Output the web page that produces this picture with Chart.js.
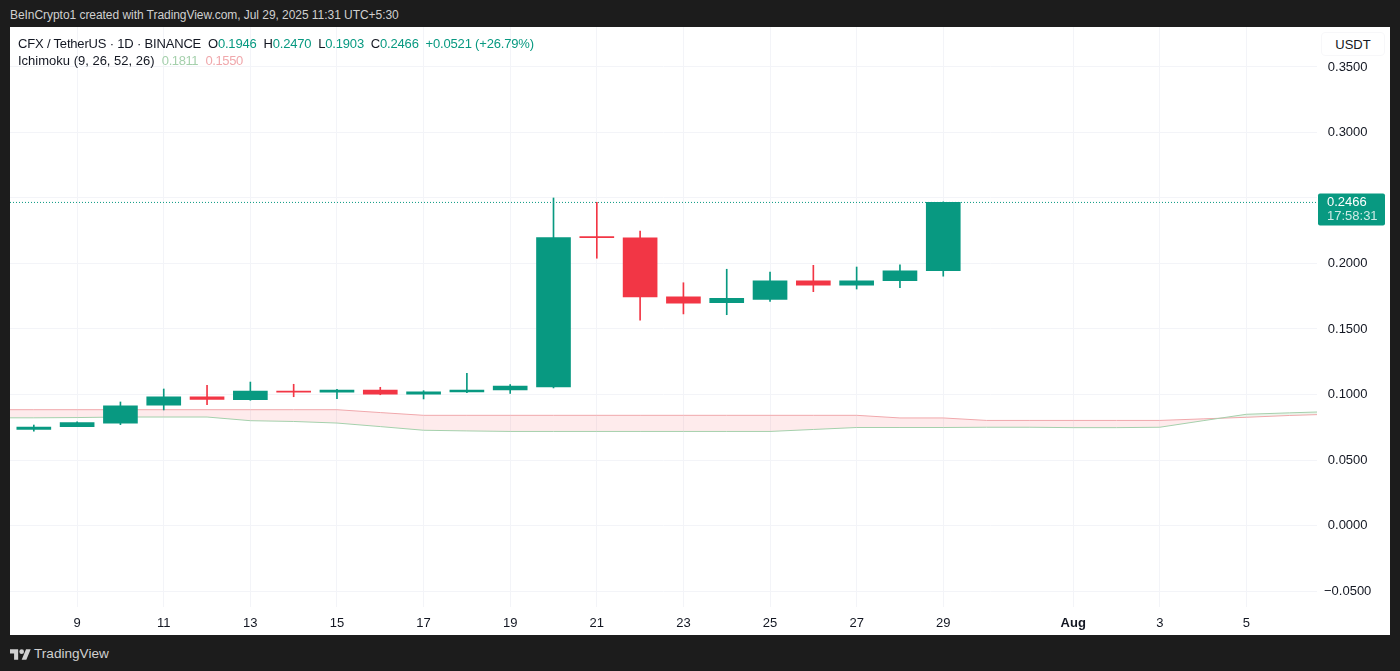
<!DOCTYPE html>
<html>
<head>
<meta charset="utf-8">
<title>CFX / TetherUS</title>
<script src="https://cdn.jsdelivr.net/npm/chart.js@4"></script>
<style>
    html, body { margin: 0; padding: 0; background: #1c1c1c; overflow: hidden; }
    body { width: 1400px; height: 671px; position: relative; font-family: "Liberation Sans", sans-serif; }
    .abs { position: absolute; white-space: pre; }
    #panel { left: 10px; top: 27px; width: 1380px; height: 608px; background: #fff; }
    #chartBox { left: 10px; top: 27px; width: 1380px; height: 608px; }
    #byline { left: 10px; top: 8px; font-size: 12px; letter-spacing: -0.05px; color: #d0d0d0; }
    #title, #ichimoku { left: 18px; font-size: 13px; color: #131722; }
    #title { top: 36px; letter-spacing: -0.18px; }
    #ichimoku { top: 53px; }
    .up { color: #089981; }
    .senkouA { color: #a5d0ac; letter-spacing: -0.4px; }
    .senkouB { color: #f0a8ac; letter-spacing: -0.4px; }
    #unit { left: 1321px; top: 32px; width: 64px; height: 24px; line-height: 24px; text-align: center; font-size: 13px;
        color: #131722; background: #fff; border: 1px solid #f7f7f9; border-radius: 4px; box-sizing: border-box; }
    #brand { left: 34px; top: 646px; font-size: 13.6px; color: #d0d0d0; }
    #logo { left: 10px; top: 647px; }
</style>
</head>
<body>
<div id="panel" class="abs"></div>
<div id="chartBox" class="abs"><canvas id="candles" width="1380" height="608"></canvas></div>
<div id="byline" class="abs">BeInCrypto1 created with TradingView.com, Jul 29, 2025 11:31 UTC+5:30</div>
<div id="title" class="abs">CFX / TetherUS · 1D · BINANCE  O<span class="up">0.1946</span>  H<span class="up">0.2470</span>  L<span class="up">0.1903</span>  C<span class="up">0.2466</span>  <span class="up">+0.0521 (+26.79%)</span></div>
<div id="ichimoku" class="abs">Ichimoku (9, 26, 52, 26)  <span class="senkouA">0.1811</span>  <span class="senkouB">0.1550</span></div>
<div id="unit" class="abs">USDT</div>
<svg id="logo" class="abs" width="21" height="14" viewBox="0 0 36 24"><path fill="#d0d0d0" d="M14 22H7V11H0V4h14v18zM28 22h-8l7.5-18h8L28 22z"/><circle fill="#d0d0d0" cx="20" cy="8" r="4"/></svg>
<div id="brand" class="abs">TradingView</div>
<script>
// candle data, day number counted from Jul 1 (Aug 1 = 32)
const days = [8, 9, 10, 11, 12, 13, 14, 15, 16, 17, 18, 19, 20, 21, 22, 23, 24, 25, 26, 27, 28, 29]
const opens = [0.0733, 0.0754, 0.0782, 0.0918, 0.0983, 0.0960, 0.1027, 0.1017, 0.1034, 0.1002, 0.1019, 0.1034, 0.1057, 0.2202, 0.2195, 0.1746, 0.1701, 0.1725, 0.1867, 0.1834, 0.1869, 0.1946]
const highs = [0.0767, 0.0792, 0.0943, 0.1042, 0.1070, 0.1095, 0.1078, 0.1040, 0.1055, 0.1029, 0.1162, 0.1076, 0.2500, 0.2467, 0.2248, 0.1853, 0.1956, 0.1935, 0.1986, 0.1973, 0.1989, 0.2470]
const lows = [0.0720, 0.0754, 0.0770, 0.0882, 0.0922, 0.0956, 0.0983, 0.0968, 0.0998, 0.0966, 0.1014, 0.1008, 0.1050, 0.2040, 0.1568, 0.1615, 0.1609, 0.1711, 0.1785, 0.1805, 0.1815, 0.1903]
const closes = [0.0752, 0.0785, 0.0914, 0.0983, 0.0963, 0.1027, 0.1017, 0.1034, 0.1002, 0.1021, 0.1034, 0.1065, 0.2197, 0.2197, 0.1745, 0.1698, 0.1734, 0.1867, 0.1834, 0.1867, 0.1943, 0.2466]

// ichimoku cloud edges
const cloudDays = [7, 8, 9, 10, 11, 12, 13, 14, 15, 16, 17, 18, 19, 20, 21, 22, 23, 24, 25, 26, 27, 28, 29, 30, 31, 32, 33, 34, 35, 36, 37, 38]
const spanA = [0.0822, 0.0822, 0.0824, 0.0828, 0.0828, 0.0828, 0.0800, 0.0794, 0.0782, 0.0755, 0.0727, 0.0722, 0.0718, 0.0718, 0.0718, 0.0718, 0.0718, 0.0718, 0.0718, 0.0733, 0.0748, 0.0748, 0.0748, 0.0750, 0.0750, 0.0747, 0.0747, 0.0750, 0.0800, 0.0849, 0.0860, 0.0870]
const spanB = [0.0884, 0.0884, 0.0884, 0.0884, 0.0884, 0.0884, 0.0884, 0.0884, 0.0884, 0.0862, 0.0841, 0.0841, 0.0841, 0.0841, 0.0841, 0.0841, 0.0841, 0.0841, 0.0841, 0.0841, 0.0841, 0.0821, 0.0821, 0.0802, 0.0802, 0.0802, 0.0802, 0.0802, 0.0814, 0.0826, 0.0840, 0.0850]

// axis ticks
const dayTicks = [9, 11, 13, 15, 17, 19, 21, 23, 25, 27, 29, 32, 34, 36]
const dayLabels = ['9', '11', '13', '15', '17', '19', '21', '23', '25', '27', '29', 'Aug', '3', '5']
const priceTicks = [0.35, 0.3, 0.25, 0.2, 0.15, 0.1, 0.05, 0, -0.05]

const xMin = 7.45
const xMax = 37.63
const lastClose = closes[closes.length - 1]
const countdown = '17:58:31'

const UP = '#089981'
const DOWN = '#f23645'
const candleColor = ctx => closes[ctx.dataIndex] >= opens[ctx.dataIndex] ? UP : DOWN

// last price tag on the right axis
const priceTag = {
    id: 'priceTag',
    afterDraw(chart) {
        const c = chart.ctx
        const y = chart.scales.y.getPixelForValue(lastClose)
        c.save()
        c.fillStyle = UP
        c.beginPath()
        c.roundRect(chart.chartArea.right + 1, y - 9, 67, 32, 2)
        c.fill()
        c.textBaseline = 'middle'
        c.textAlign = 'left'
        c.font = '13px "Liberation Sans"'
        c.fillStyle = '#ffffff'
        c.fillText(lastClose.toFixed(4), chart.chartArea.right + 10, y)
        c.fillStyle = 'rgba(255,255,255,0.8)'
        c.fillText(countdown, chart.chartArea.right + 10, y + 14)
        c.restore()
    }
}

// no automatic room for half tick labels, the plot fills the panel
function noAutoPadding(axis) {
    axis.paddingTop = 0
    axis.paddingBottom = 0
    axis.paddingLeft = 0
    axis.paddingRight = 0
}

new Chart(document.getElementById('candles'), {
    type: 'bar',
    plugins: [priceTag],
    data: {
        datasets: [
            {
                label: 'Body',
                data: days.map((d, i) => ({ x: d, y: [opens[i], closes[i]] })),
                backgroundColor: candleColor,
                barThickness: 34,
                minBarLength: 1,
                grouped: false,
                order: 1
            },
            {
                label: 'Wick',
                data: days.map((d, i) => ({ x: d, y: [lows[i], highs[i]] })),
                backgroundColor: candleColor,
                barThickness: 1,
                grouped: false,
                order: 2
            },
            {
                type: 'line',
                label: 'Last price',
                data: [{ x: xMin, y: lastClose }, { x: xMax, y: lastClose }],
                borderColor: UP,
                borderWidth: 1,
                borderDash: [1, 2],
                pointRadius: 0,
                order: 3
            },
            {
                type: 'line',
                label: 'Span A',
                data: cloudDays.map((d, i) => ({ x: d, y: spanA[i] })),
                borderColor: '#a5d0ac',
                borderWidth: 1,
                pointRadius: 0,
                tension: 0,
                order: 4
            },
            {
                type: 'line',
                label: 'Span B',
                data: cloudDays.map((d, i) => ({ x: d, y: spanB[i] })),
                borderColor: '#f0a8ac',
                borderWidth: 1,
                pointRadius: 0,
                tension: 0,
                fill: {
                    target: '-1',
                    above: 'rgba(242, 54, 69, 0.1)',
                    below: 'rgba(67, 160, 71, 0.1)'
                },
                order: 4
            }
        ]
    },
    options: {
        responsive: false,
        animation: false,
        plugins: {
            legend: { display: false },
            tooltip: { enabled: false }
        },
        scales: {
            x: {
                type: 'linear',
                min: xMin,
                max: xMax,
                offset: false,
                afterBuildTicks(axis) { axis.ticks = dayTicks.map(v => ({ value: v })) },
                afterFit(axis) { axis.height = 28; noAutoPadding(axis) },
                grid: { color: '#f3f4f8', offset: false, drawTicks: false },
                border: { display: false },
                ticks: {
                    autoSkip: false,
                    maxRotation: 0,
                    padding: 9,
                    color: '#131722',
                    font: ctx => ({ family: 'Liberation Sans', size: 13, weight: dayLabels[ctx.index] === 'Aug' ? 'bold' : 'normal' }),
                    callback: (v, i) => dayLabels[i]
                }
            },
            y: {
                position: 'right',
                min: -0.0622,
                max: 0.3805,
                afterBuildTicks(axis) { axis.ticks = priceTicks.map(v => ({ value: v })) },
                afterFit(axis) { axis.width = 73; noAutoPadding(axis) },
                grid: { color: '#f3f4f8', drawTicks: false },
                border: { display: false },
                ticks: {
                    crossAlign: 'center',
                    padding: 7,
                    color: '#131722',
                    font: { family: 'Liberation Sans', size: 13 },
                    // the price tag takes the place of the nearest label
                    callback: v => Math.abs(v - lastClose) < 0.01 ? '' : (v < 0 ? '\u2212' : '') + Math.abs(v).toFixed(4)
                }
            }
        }
    }
})
</script>
</body>
</html>
